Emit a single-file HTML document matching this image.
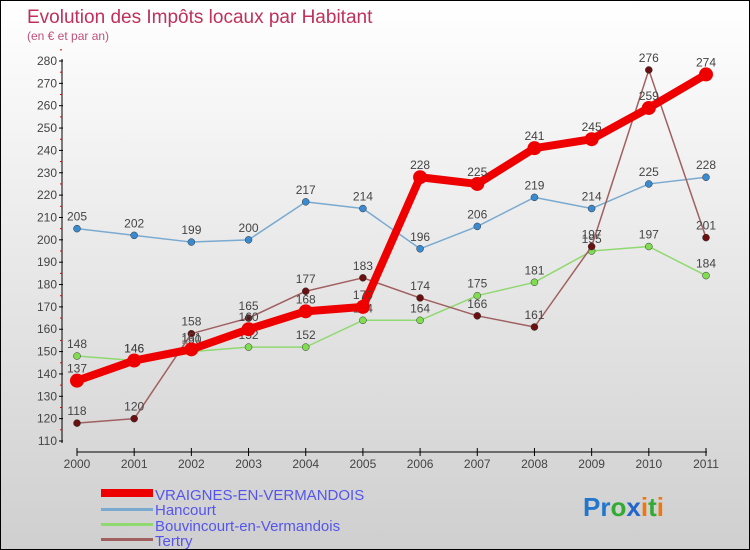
<!DOCTYPE html>
<html><head><meta charset="utf-8"><style>
body{margin:0;}
#c{width:750px;height:550px;position:relative;box-sizing:border-box;border:1px solid #000;background:linear-gradient(#ffffff,#cfcfcf);font-family:"Liberation Sans",sans-serif;overflow:hidden;}
</style></head><body>
<div id="c">
<svg id="s" width="750" height="550" style="position:absolute;left:0;top:0">
<text x="26" y="22" font-size="19" fill="#c0305a">Evolution des Impôts locaux par Habitant</text>
<text x="26" y="39" font-size="12" fill="#c0507a">(en € et par an)</text>
<g id="axes"></g><g id="series"></g>
<g>
<rect x="100" y="488" width="52" height="8" fill="#e00"/>
<text x="154" y="499" font-size="15" fill="#5555ee">VRAIGNES-EN-VERMANDOIS</text>
<rect x="100" y="507" width="52" height="3" fill="#7aaad0"/>
<text x="154" y="514" font-size="15" fill="#5555ee">Hancourt</text>
<rect x="100" y="522" width="52" height="3" fill="#90d870"/>
<text x="154" y="530" font-size="15" fill="#5555ee">Bouvincourt-en-Vermandois</text>
<rect x="100" y="537" width="52" height="3" fill="#a06060"/>
<text x="154" y="545" font-size="15" fill="#5555ee">Tertry</text>
</g>
<g font-size="26" font-weight="bold">
<text x="582" y="515"><tspan fill="#2277cc">Pr</tspan><tspan fill="#33aa33">o</tspan><tspan fill="#2266cc">x</tspan><tspan fill="#ee7711">i</tspan><tspan fill="#33aa33">t</tspan><tspan fill="#ee7711">i</tspan></text>
</g>
</svg>
</div>
<script>
const years=[2000,2001,2002,2003,2004,2005,2006,2007,2008,2009,2010,2011];
const yTicks=[110,120,130,140,150,160,170,180,190,200,210,220,230,240,250,260,270,280];
const vraignes=[137,146,151,160,168,170,228,225,241,245,259,274];
const hancourt=[205,202,199,200,217,214,196,206,219,214,225,228];
const bouvincourt=[148,146,150,152,152,164,164,175,181,195,197,184];
const tertry=[118,120,158,165,177,183,174,166,161,197,276,201];
const NS="http://www.w3.org/2000/svg";
function X(i){return 76+i*(705-76)/(years.length-1);}
function Y(v){return 60+(280-v)*(440-60)/170;}
function mk(t,a,p){const e=document.createElementNS(NS,t);for(const k in a)e.setAttribute(k,a[k]);p.appendChild(e);return e;}
const ax=document.getElementById('axes');
let l=mk('line',{x1:61,y1:58,x2:61,y2:442,stroke:'#000','stroke-width':1},ax);


yTicks.forEach(v=>{
 mk('line',{x1:58,y1:Y(v),x2:62,y2:Y(v),stroke:'#000'},ax);
 mk('line',{x1:59,y1:Y(v+5),x2:61,y2:Y(v+5),stroke:'#e00'},ax);
 const t=mk('text',{x:56,y:Y(v)+4,'font-size':12,fill:'#444','text-anchor':'end'},ax);t.textContent=v;
 
 
});
l=mk('line',{x1:76,y1:451,x2:706,y2:451,stroke:'#000'},ax);


years.forEach((y,i)=>{
 mk('line',{x1:X(i),y1:447,x2:X(i),y2:455,stroke:'#000'},ax);
 const t=mk('text',{x:X(i),y:467,'font-size':12,fill:'#444','text-anchor':'middle'},ax);t.textContent=y;
 
 
});
const sg=document.getElementById('series');
function draw(name,data,color,w,r,dot){
 const g=mk('g',{},sg);
 
 
 const pl=mk('polyline',{points:data.map((v,i)=>X(i)+','+Y(v)).join(' '),fill:'none',stroke:color,'stroke-width':w,'stroke-linejoin':'round'},g);
 
 
 data.forEach((v,i)=>{
  const c=mk('circle',{cx:X(i),cy:Y(v),r:r,fill:dot,stroke:dot=='#e00'?'none':'#333','stroke-width':0.5},g);
  
  
  const t=mk('text',{x:X(i),y:Y(v)-8,'font-size':12,fill:'#444','text-anchor':'middle'},g);t.textContent=v;
  
  
 });
}
draw('hancourt',hancourt,'#7aaad0',1.5,3.5,'#3a8ad0');
draw('bouvincourt',bouvincourt,'#90d870',1.5,3.5,'#80dd50');
draw('tertry',tertry,'#a06060',1.5,3.5,'#6a1010');
draw('vraignes',vraignes,'#e00',8,7,'#e00');
</script>
</body></html>
